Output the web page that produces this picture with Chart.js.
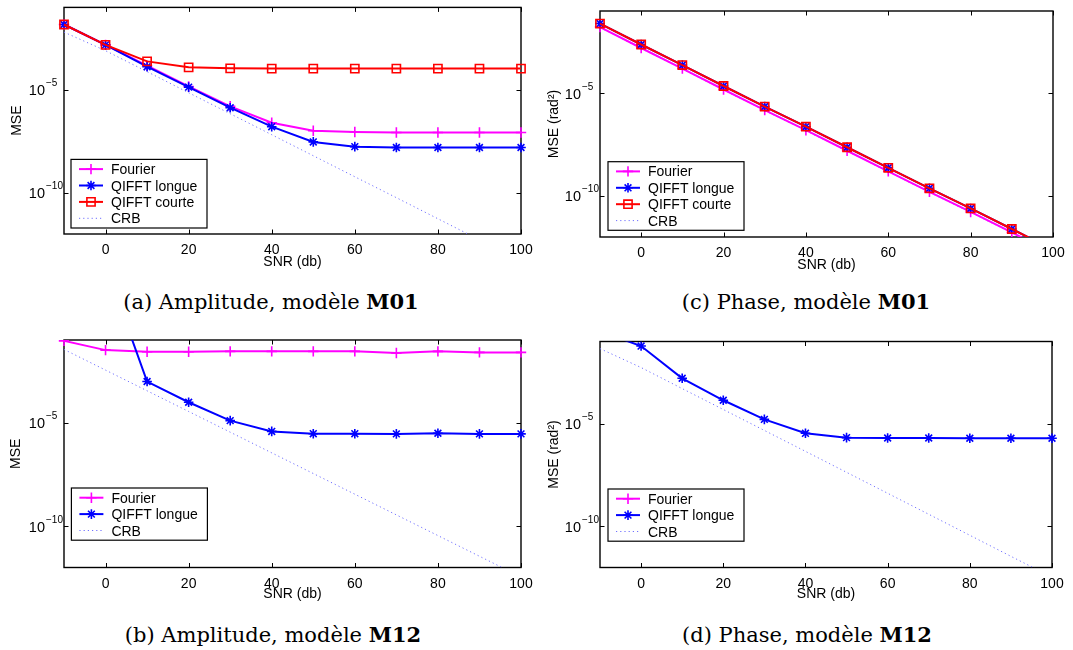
<!DOCTYPE html>
<html>
<head>
<meta charset="utf-8">
<script src="https://cdn.jsdelivr.net/npm/chart.js@4.4.1/dist/chart.umd.min.js"></script>
<style>
  body { margin: 0; background: #fff; width: 1073px; height: 650px; position: relative; overflow: hidden; }
  canvas { position: absolute; }
  .cap {
    position: absolute; width: 400px; height: 24px; line-height: 24px;
    text-align: center; font-family: "DejaVu Serif", serif; font-size: 21px; color: #000;
    white-space: nowrap;
  }
</style>
</head>
<body>
<canvas id="ampM01" width="536" height="280" style="left:0;top:0"></canvas>
<canvas id="phaseM01" width="537" height="280" style="left:536px;top:0"></canvas>
<canvas id="ampM12" width="536" height="280" style="left:0;top:330px"></canvas>
<canvas id="phaseM12" width="537" height="280" style="left:536px;top:330px"></canvas>

<div class="cap" style="left:71px;top:290px">(a) Amplitude, modèle <b>M01</b></div>
<div class="cap" style="left:606px;top:290px">(c) Phase, modèle <b>M01</b></div>
<div class="cap" style="left:73px;top:623px">(b) Amplitude, modèle <b>M12</b></div>
<div class="cap" style="left:607px;top:623px">(d) Phase, modèle <b>M12</b></div>

<script>
// ---- data (MSE) ----
const snrDb = [-10, 0, 10, 20, 30, 40, 50, 60, 70, 80, 90, 100];
const xTicks = [0, 20, 40, 60, 80, 100];
const yTicks = [1e-10, 1e-5];

// (a) amplitude, M01
const ampM01Fourier = [1.48e-2, 1.51e-3, 1.48e-4, 1.45e-5, 1.58e-6, 2.51e-7, 1.02e-7, 8.9e-8, 8.5e-8, 8.5e-8, 8.5e-8, 8.5e-8];
const ampM01Longue = [1.48e-2, 1.51e-3, 1.32e-4, 1.35e-5, 1.35e-6, 1.62e-7, 2.95e-8, 1.74e-8, 1.58e-8, 1.58e-8, 1.58e-8, 1.58e-8];
const ampM01Courte = [1.48e-2, 1.51e-3, 2.40e-4, 1.23e-4, 1.10e-4, 1.07e-4, 1.07e-4, 1.07e-4, 1.07e-4, 1.07e-4, 1.07e-4, 1.07e-4];
const ampM01Crb = [6.3e-3, 7.9e-4, 7.6e-5, 7.2e-6, 6.9e-7, 6.6e-8, 6.3e-9, 6.0e-10, 5.8e-11, 5.5e-12, 5.2e-13, 5.0e-14];

// (c) phase, M01
const phaseM01Fourier = [1.66e-2, 1.58e-3, 1.58e-4, 1.51e-5, 1.51e-6, 1.58e-7, 1.58e-8, 1.58e-9, 1.58e-10, 1.66e-11, 1.66e-12, 1.62e-13];
const phaseM01Longue = [2.45e-2, 2.34e-3, 2.34e-4, 2.24e-5, 2.24e-6, 2.34e-7, 2.34e-8, 2.34e-9, 2.34e-10, 2.45e-11, 2.45e-12, 2.40e-13];
const phaseM01Courte = [2.45e-2, 2.34e-3, 2.34e-4, 2.24e-5, 2.24e-6, 2.34e-7, 2.34e-8, 2.34e-9, 2.34e-10, 2.45e-11, 2.45e-12, 2.40e-13];
const phaseM01Crb = [1.58e-2, 1.50e-3, 1.50e-4, 1.43e-5, 1.43e-6, 1.50e-7, 1.50e-8, 1.50e-9, 1.50e-10, 1.58e-11, 1.58e-12, 1.54e-13];

// (b) amplitude, M12
const ampM12Fourier = [9.1e-2, 3.24e-2, 2.69e-2, 2.69e-2, 2.82e-2, 2.82e-2, 2.82e-2, 2.82e-2, 2.34e-2, 2.82e-2, 2.51e-2, 2.51e-2];
const ampM12Longue = [1.2e3, 4.0e2, 9.8e-4, 9.8e-5, 1.26e-5, 3.8e-6, 2.95e-6, 2.95e-6, 2.88e-6, 3.09e-6, 2.88e-6, 2.88e-6];
const ampM12Crb = [3.5e-2, 3.5e-3, 3.5e-4, 3.5e-5, 3.5e-6, 3.5e-7, 3.5e-8, 3.5e-9, 3.5e-10, 3.5e-11, 3.5e-12, 3.5e-13];

// (d) phase, M12 (Fourier not visible on the plot)
const phaseM12Fourier = [null, null, null, null, null, null, null, null, null, null, null, null];
const phaseM12Longue = [0.32, 6.0e-2, 1.62e-3, 1.38e-4, 1.62e-5, 3.4e-6, 2.09e-6, 2.0e-6, 2.0e-6, 1.95e-6, 1.95e-6, 1.95e-6];
const phaseM12Crb = [4.5e-2, 5.4e-3, 5.1e-4, 4.9e-5, 4.7e-6, 4.5e-7, 4.3e-8, 4.1e-9, 3.9e-10, 3.7e-11, 3.5e-12, 3.4e-13];

// ---- styles ----
const FONT = '"Liberation Sans", Arial, Helvetica, sans-serif';
Chart.defaults.font.family = FONT;
Chart.defaults.font.size = 14;
Chart.defaults.color = '#000';

const looks = {
  'Fourier': { color: '#ff00ff', marker: 'cross', r: 5.2, width: 2, dash: [], order: 4 },
  'QIFFT longue': { color: '#0000ff', marker: 'star', r: 4.8, width: 2, dash: [], order: 3 },
  'QIFFT courte': { color: '#ff0000', marker: 'rect', r: 5.8, width: 2, dash: [], order: 2 },
  'CRB': { color: '#7070ff', marker: false, r: 0, width: 1, dash: [1.2, 3], order: 5 }
};

function series(name, values) {
  const s = looks[name];
  return {
    label: name,
    data: snrDb.map((x, i) => ({ x: x, y: values[i] })),
    borderColor: s.color,
    backgroundColor: 'transparent',
    borderWidth: s.width,
    borderDash: s.dash,
    pointStyle: s.marker,
    pointRadius: s.r,
    pointHoverRadius: s.r,
    pointBorderWidth: 1.6,
    pointBorderColor: s.color,
    pointBackgroundColor: 'transparent',
    tension: 0,
    order: s.order,
    clip: { left: 10, right: 10, top: 0, bottom: 0 }
  };
}

function drawMarker(ctx, style, x, y, r) {
  ctx.beginPath();
  if (style === 'cross' || style === 'star') {
    ctx.moveTo(x - r, y); ctx.lineTo(x + r, y);
    ctx.moveTo(x, y - r); ctx.lineTo(x, y + r);
  }
  if (style === 'star') {
    const d = r * Math.SQRT1_2;
    ctx.moveTo(x - d, y - d); ctx.lineTo(x + d, y + d);
    ctx.moveTo(x - d, y + d); ctx.lineTo(x + d, y - d);
  }
  if (style === 'rect') {
    const h = r * Math.SQRT1_2;
    ctx.rect(x - h, y - h, 2 * h, 2 * h);
  }
  ctx.stroke();
}

// matlab-like box, inward ticks and 10^n labels
const axesBox = {
  id: 'axesBox',
  beforeDatasetsDraw(chart) {
    const { ctx, chartArea: a, scales } = chart;
    ctx.save();
    ctx.strokeStyle = '#000';
    ctx.lineWidth = 1;
    ctx.beginPath();
    xTicks.forEach(v => {
      const px = Math.round(scales.x.getPixelForValue(v)) + 0.5;
      ctx.moveTo(px, a.bottom); ctx.lineTo(px, a.bottom - 4.5);
      ctx.moveTo(px, a.top); ctx.lineTo(px, a.top + 4.5);
    });
    yTicks.forEach(v => {
      const py = Math.round(scales.y.getPixelForValue(v)) + 0.5;
      ctx.moveTo(a.left, py); ctx.lineTo(a.left + 4.5, py);
      ctx.moveTo(a.right, py); ctx.lineTo(a.right - 4.5, py);
    });
    ctx.stroke();
    ctx.lineWidth = 1.4;
    ctx.strokeRect(a.left, a.top, a.right - a.left, a.bottom - a.top);

    ctx.fillStyle = '#000';
    yTicks.forEach(v => {
      const py = scales.y.getPixelForValue(v);
      const e = Math.round(Math.log10(v));
      ctx.font = '14.5px ' + FONT;
      ctx.textAlign = 'right';
      ctx.textBaseline = 'alphabetic';
      ctx.fillText('10', a.left - 19, py + 5.5);
      ctx.font = '10px ' + FONT;
      ctx.textAlign = 'left';
      ctx.fillText('\u2212' + Math.abs(e), a.left - 18, py - 3.5);
    });
    ctx.restore();
  }
};

// legend box inside the axes
const boxLegend = {
  id: 'boxLegend',
  afterDatasetsDraw(chart, args, opts) {
    const { ctx, chartArea: a } = chart;
    const sets = chart.data.datasets;
    const left = a.left + opts.dx, top = a.top + opts.dy;
    const w = 136, rowH = 16.4, pad = 9.7;
    const h = pad * 2 + rowH * (sets.length - 1);
    ctx.save();
    ctx.fillStyle = '#fff';
    ctx.fillRect(left, top, w, h);
    ctx.strokeStyle = '#000';
    ctx.lineWidth = 1.2;
    ctx.strokeRect(left, top, w, h);
    sets.forEach((ds, i) => {
      const s = looks[ds.label];
      const y = top + pad + i * rowH;
      ctx.strokeStyle = s.color;
      ctx.lineWidth = s.width;
      ctx.setLineDash(s.dash);
      ctx.beginPath();
      ctx.moveTo(left + 8, y); ctx.lineTo(left + 32, y);
      ctx.stroke();
      ctx.setLineDash([]);
      if (s.marker) {
        ctx.lineWidth = 1.6;
        drawMarker(ctx, s.marker, left + 20, y, s.r);
      }
      ctx.fillStyle = '#000';
      ctx.font = '14px ' + FONT;
      ctx.textAlign = 'left';
      ctx.textBaseline = 'alphabetic';
      ctx.fillText(ds.label, left + 40, y + 5);
    });
    ctx.restore();
  }
};

function makePanel(id, datasets, g) {
  return new Chart(document.getElementById(id), {
    type: 'line',
    data: { datasets: datasets },
    options: {
      responsive: false,
      animation: false,
      events: [],
      layout: { padding: { top: g.padTop, right: g.padRight, left: 0, bottom: 0 } },
      plugins: {
        legend: { display: false },
        tooltip: { enabled: false },
        boxLegend: { dx: g.legDx, dy: g.legDy }
      },
      scales: {
        x: {
          type: 'linear', min: -10, max: 100,
          afterBuildTicks: s => { s.ticks = xTicks.map(v => ({ value: v })); },
          afterFit: s => { s.height = g.xH; },
          grid: { display: false },
          border: { display: false },
          ticks: { padding: 0, font: { size: 14 }, callback: v => String(v), maxRotation: 0 },
          title: { display: true, text: 'SNR (db)', font: { size: 14 }, padding: { top: 0, bottom: g.xTitlePad } }
        },
        y: {
          type: 'logarithmic', min: 1e-12, max: 1e-1,
          afterFit: s => { s.width = 64; },
          grid: { display: false },
          border: { display: false },
          ticks: { display: false },
          title: { display: true, text: g.yLabel, font: { size: 14 }, padding: { top: g.yTitlePad, bottom: 0 } }
        }
      }
    },
    plugins: [axesBox, boxLegend]
  });
}

makePanel('ampM01', [
  series('Fourier', ampM01Fourier),
  series('QIFFT longue', ampM01Longue),
  series('QIFFT courte', ampM01Courte),
  series('CRB', ampM01Crb)
], { padTop: 6, padRight: 15, xH: 46, xTitlePad: 9.6, yTitlePad: 8.6, yLabel: 'MSE', legDx: 7, legDy: 152 });

makePanel('phaseM01', [
  series('Fourier', phaseM01Fourier),
  series('QIFFT longue', phaseM01Longue),
  series('QIFFT courte', phaseM01Courte),
  series('CRB', phaseM01Crb)
], { padTop: 11, padRight: 20, xH: 43, xTitlePad: 6.6, yTitlePad: 9.6, yLabel: 'MSE (rad²)', legDx: 8, legDy: 150.7 });

makePanel('ampM12', [
  series('Fourier', ampM12Fourier),
  series('QIFFT longue', ampM12Longue),
  series('CRB', ampM12Crb)
], { padTop: 10, padRight: 15, xH: 42.5, xTitlePad: 7.3, yTitlePad: 7.6, yLabel: 'MSE', legDx: 7.4, legDy: 148 });

makePanel('phaseM12', [
  series('Fourier', phaseM12Fourier),
  series('QIFFT longue', phaseM12Longue),
  series('CRB', phaseM12Crb)
], { padTop: 11.5, padRight: 21, xH: 42.5, xTitlePad: 7.3, yTitlePad: 9.4, yLabel: 'MSE (rad²)', legDx: 8, legDy: 147.5 });
</script>
</body>
</html>
